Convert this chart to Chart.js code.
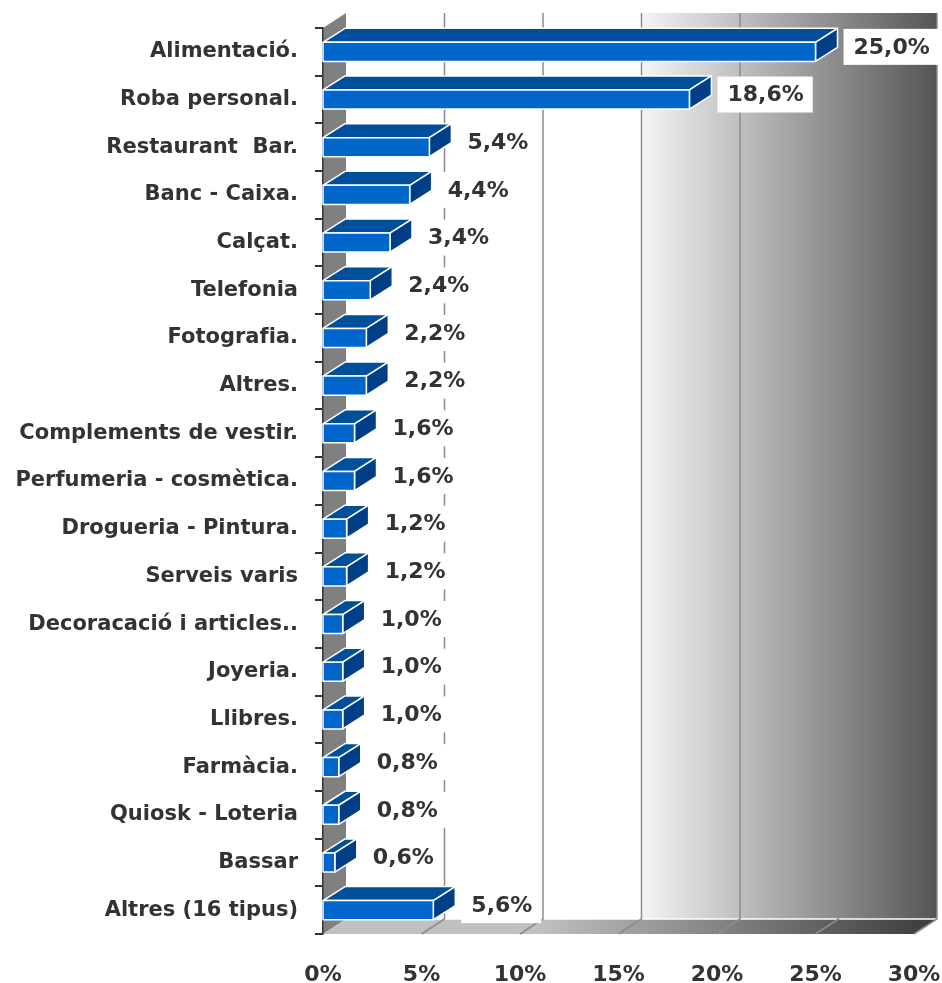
<!DOCTYPE html>
<html lang="ca">
<head>
  <meta charset="UTF-8" />
  <title>Tipus de comerç</title>
  <script src="https://cdn.jsdelivr.net/npm/chart.js"></script>
  <style>
    html, body { margin: 0; padding: 0; background: #fff; }
    #wrap { width: 942px; height: 983px; }
  </style>
</head>
<body>
  <div id="wrap"><canvas id="grafic" width="942" height="983"></canvas></div>

  <script>
    const categories = [
      'Alimentació.', 'Roba personal.', 'Restaurant  Bar.', 'Banc - Caixa.', 'Calçat.',
      'Telefonia', 'Fotografia.', 'Altres.', 'Complements de vestir.', 'Perfumeria - cosmètica.',
      'Drogueria - Pintura.', 'Serveis varis', 'Decoracació i articles..', 'Joyeria.', 'Llibres.',
      'Farmàcia.', 'Quiosk - Loteria', 'Bassar', 'Altres (16 tipus)'
    ];
    const values = [25.0, 18.6, 5.4, 4.4, 3.4, 2.4, 2.2, 2.2, 1.6, 1.6, 1.2, 1.2, 1.0, 1.0, 1.0, 0.8, 0.8, 0.6, 5.6];
    const xTicks = [0, 5, 10, 15, 20, 25, 30];

    const FONT = '"DejaVu Sans", Verdana, sans-serif';
    const TEXT = '#333333';

    // profunditat de les parets i de les barres
    const DX = 23, DY = -15;
    const BDX = 22, BDY = -14;

    const fons3d = {
      id: 'fons3d',
      beforeDraw(chart) {
        const { ctx, chartArea: a, scales: { x } } = chart;
        ctx.save();

        // paret del fons
        const g = ctx.createLinearGradient(a.left + DX, 0, a.right + DX, 0);
        g.addColorStop(0, '#ffffff');
        g.addColorStop(0.5, '#ffffff');
        g.addColorStop(0.5, '#f4f4f4');
        g.addColorStop(1, '#555555');
        ctx.fillStyle = g;
        ctx.fillRect(a.left + DX, a.top + DY, a.right - a.left, a.bottom - a.top);

        // paret esquerra
        ctx.fillStyle = '#808080';
        ctx.beginPath();
        ctx.moveTo(a.left, a.top);
        ctx.lineTo(a.left + DX, a.top + DY);
        ctx.lineTo(a.left + DX, a.bottom + DY);
        ctx.lineTo(a.left, a.bottom);
        ctx.closePath();
        ctx.fill();

        // terra
        const gf = ctx.createLinearGradient(540, 0, a.right + DX, 0);
        gf.addColorStop(0, '#c0c0c0');
        gf.addColorStop(1, '#3a3a3a');
        ctx.fillStyle = gf;
        ctx.beginPath();
        ctx.moveTo(a.left, a.bottom);
        ctx.lineTo(a.left + DX, a.bottom + DY);
        ctx.lineTo(a.right + DX, a.bottom + DY);
        ctx.lineTo(a.right, a.bottom);
        ctx.closePath();
        ctx.fill();

        ctx.strokeStyle = '#ffffff';
        ctx.lineWidth = 1.5;
        ctx.beginPath();
        ctx.moveTo(a.left + DX, a.bottom + DY);
        ctx.lineTo(a.right + DX, a.bottom + DY);
        ctx.stroke();

        // línies de graella
        ctx.strokeStyle = '#8c8c8c';
        ctx.lineWidth = 1.5;
        xTicks.forEach(v => {
          if (v === 0) return;
          const fx = x.getPixelForValue(v);
          ctx.beginPath();
          ctx.moveTo(fx + DX, a.top + DY);
          ctx.lineTo(fx + DX, a.bottom + DY);
          ctx.lineTo(fx, a.bottom);
          ctx.stroke();
        });
        ctx.restore();
      },

      afterDatasetsDraw(chart) {
        const { ctx } = chart;
        const meta = chart.getDatasetMeta(0);
        ctx.save();
        ctx.lineWidth = 1.5;
        ctx.lineJoin = 'round';
        ctx.strokeStyle = '#ffffff';

        meta.data.forEach((bar, i) => {
          const p = bar.getProps(['x', 'y', 'base', 'height'], true);
          const xe = p.x, b0 = p.base;
          const t = p.y - p.height / 2, bt = p.y + p.height / 2;

          // cara superior
          ctx.fillStyle = '#004f9a';
          ctx.beginPath();
          ctx.moveTo(b0, t);
          ctx.lineTo(b0 + BDX, t + BDY);
          ctx.lineTo(xe + BDX, t + BDY);
          ctx.lineTo(xe, t);
          ctx.closePath();
          ctx.fill();
          ctx.stroke();

          // cara lateral
          ctx.fillStyle = '#003f87';
          ctx.beginPath();
          ctx.moveTo(xe, t);
          ctx.lineTo(xe + BDX, t + BDY);
          ctx.lineTo(xe + BDX, bt + BDY);
          ctx.lineTo(xe, bt);
          ctx.closePath();
          ctx.fill();
          ctx.stroke();

          // cara frontal
          ctx.fillStyle = '#0066cc';
          ctx.beginPath();
          ctx.rect(b0, t, xe - b0, bt - t);
          ctx.fill();
          ctx.stroke();
        });

        // etiquetes de valor
        ctx.font = 'bold 22px ' + FONT;
        ctx.textBaseline = 'middle';
        ctx.textAlign = 'left';
        meta.data.forEach((bar, i) => {
          const p = bar.getProps(['x', 'y'], true);
          const txt = values[i].toFixed(1).replace('.', ',') + '%';
          const w = ctx.measureText(txt).width;
          const bx = p.x + BDX + 6;
          const cy = p.y - 5;
          ctx.fillStyle = '#ffffff';
          ctx.fillRect(bx, cy - 18, w + 19, 36);
          ctx.fillStyle = TEXT;
          ctx.fillText(txt, bx + 10, cy + 1);
        });
        ctx.restore();
      }
    };

    new Chart(document.getElementById('grafic'), {
      type: 'bar',
      data: {
        labels: categories,
        datasets: [{
          data: values,
          backgroundColor: 'rgba(0,0,0,0)',
          borderWidth: 0,
          barPercentage: 0.4,
          categoryPercentage: 1
        }]
      },
      options: {
        indexAxis: 'y',
        responsive: false,
        animation: false,
        layout: { padding: { top: 28, right: 28, left: 0, bottom: 0 } },
        plugins: {
          legend: { display: false },
          tooltip: { enabled: false }
        },
        scales: {
          x: {
            min: 0,
            max: 30,
            afterFit(scale) {
              scale.height = 49;
              scale.paddingLeft = 0;
              scale.paddingRight = 0;
            },
            grid: { display: false },
            border: { display: false },
            ticks: {
              stepSize: 5,
              padding: 20,
              maxRotation: 0,
              color: TEXT,
              font: { family: FONT, size: 22, weight: 'bold' },
              callback: v => v + '%'
            }
          },
          y: {
            afterFit(scale) {
              scale.width = 323;
              scale.paddingTop = 0;
              scale.paddingBottom = 0;
            },
            grid: {
              display: true,
              drawOnChartArea: false,
              drawTicks: true,
              tickLength: 8,
              color: '#333333',
              lineWidth: 2,
              offset: true
            },
            border: { display: true, color: '#333333', width: 1.5 },
            ticks: {
              autoSkip: false,
              padding: 17,
              color: TEXT,
              font: { family: FONT, size: 21, weight: 'bold' }
            }
          }
        }
      },
      plugins: [fons3d]
    });
  </script>
</body>
</html>
